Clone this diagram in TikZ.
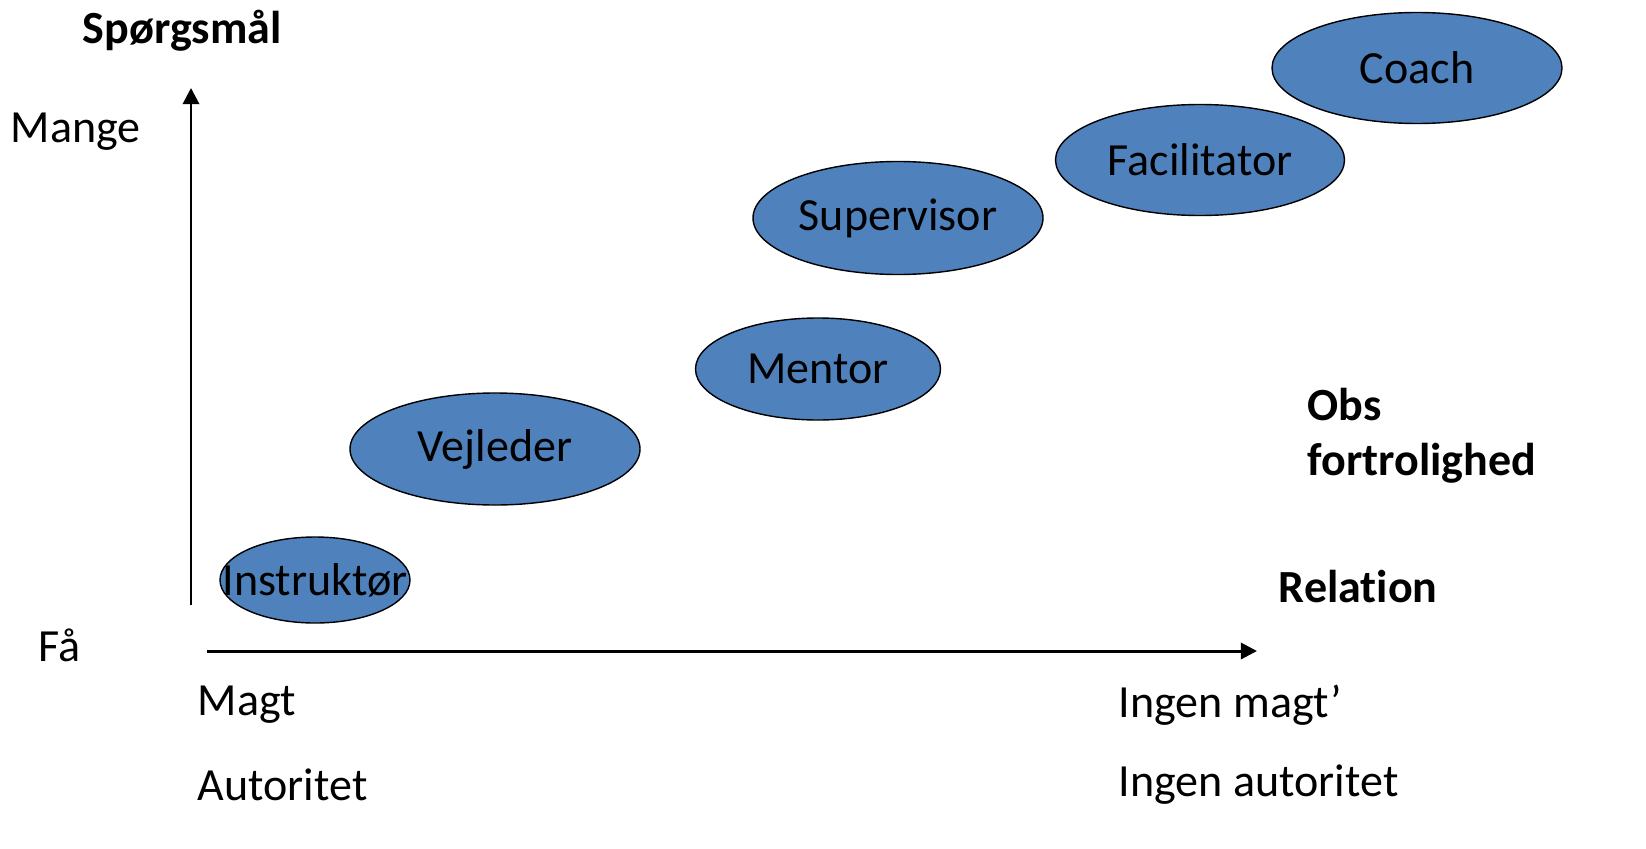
\documentclass[tikz,border=0pt]{standalone}
\usepackage{fontspec}
\setmainfont{Carlito}[Ligatures=NoCommon]
\usepackage{tikz}
\usetikzlibrary{arrows.meta,shapes.geometric,positioning}

\begin{document}
\begin{tikzpicture}[ -, node distance = 1cm,
                    every node/.style = {font=\fontsize{13.1}{15.6}\selectfont},
                    role/.style = {ellipse, draw=black, line width=0.4pt, fill={rgb,255:red,79;green,129;blue,189}, inner sep=0pt},
                    txt/.style = {anchor=west, inner sep=0pt},
                    axis/.style = {line width=0.85pt, -{Triangle[width=4.6pt,length=4.6pt]}}]
\useasboundingbox (0,0) rectangle (16.46,8.48);
    \node[role, minimum width=1.90cm, minimum height=0.86cm] (instr)  at (3.15,2.68) {\makebox[0pt]{Instruktør}};
\node[role, minimum width=2.90cm, minimum height=1.12cm] (vejl)  at (4.95,3.99) {Vejleder};
\node[role, minimum width=2.45cm, minimum height=1.02cm] (mentor)  at (8.18,4.79) {Mentor};
\node[role, minimum width=2.90cm, minimum height=1.13cm] (super)  at (8.98,6.30) {Supervisor};
\node[role, minimum width=2.89cm, minimum height=1.11cm] (facil)  at (12.00,6.88) {Facilitator};
\node[role, minimum width=2.90cm, minimum height=1.11cm] (coach)  at (14.17,7.80) {Coach};
    % akser
\coordinate (ybund) at (1.91,2.43);
\coordinate (ytop) at (1.91,7.60);
\coordinate (xstart) at (2.07,1.97);
\coordinate (xslut) at (12.57,1.97);
\draw[axis] (ybund) -- (ytop);
\draw[axis] (xstart) -- (xslut);
    % tekster
\node[txt] (sp)  at (0.82,8.17) {\bfseries Spørgsmål};
\node[txt] (mange)  at (0.10,7.16) {Mange};
\node[txt] (faa)  at (0.38,2.03) {Få};
\node[txt] (magt)  at (1.97,1.43) {Magt};
\node[txt] (aut)  at (1.97,0.63) {Autoritet};
\node[txt] (imagt)  at (11.18,1.43) {Ingen magt’};
\node[txt] (iaut)  at (11.18,0.63) {Ingen autoritet};
\node[txt, align=left] (obs)  at (13.07,4.12) {\bfseries Obs\\\bfseries fortrolighed};
\node[txt] (rel)  at (12.78,2.61) {\bfseries Relation};
\end{tikzpicture}
\end{document}
